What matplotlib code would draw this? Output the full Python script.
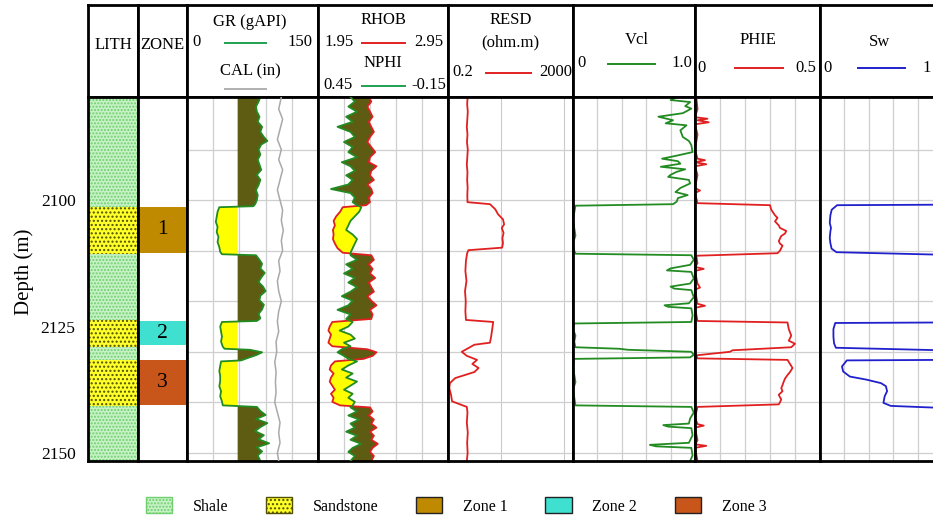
import numpy as np
import matplotlib.pyplot as plt
from matplotlib.patches import Patch

plt.rcParams['font.family'] = ['Liberation Serif', 'DejaVu Serif']
plt.rcParams['hatch.linewidth'] = 1.0

# lithology column and zones (depth in m)
lith_top = [2079.6, 2101.3, 2110.6, 2123.8, 2129.0, 2131.6, 2140.8]
lith_base = [2101.3, 2110.6, 2123.8, 2129.0, 2131.6, 2140.8, 2151.6]
lith_type = ['Shale', 'Sandstone', 'Shale', 'Sandstone', 'Shale', 'Sandstone', 'Shale']

zone_names = ['1', '2', '3']
zone_top = [2101.3, 2123.9, 2131.6]
zone_base = [2110.5, 2128.7, 2140.5]
zone_colors = ['#bf8a00', '#40e0d0', '#c8561a']

depth_ticks = [2100, 2125, 2150]
grid_depths = [2090, 2100, 2110, 2120, 2130, 2140, 2150]

# GR (gAPI)
gr_log = [(2079.6, 84), (2080.5, 82), (2081.5, 79), (2082.5, 80), (2083.5, 83), (2084.5, 81),
          (2085.5, 86), (2086.5, 84), (2087.5, 88), (2088.3, 92), (2089.0, 85), (2090.0, 82),
          (2091.0, 84), (2092.0, 81), (2093.0, 83), (2094.0, 85), (2095.0, 80), (2096.0, 84),
          (2097.0, 82), (2098.0, 79), (2099.0, 81), (2100.0, 80), (2100.8, 78), (2101.2, 76),
          (2101.4, 37), (2102.3, 35), (2103.3, 34), (2104.3, 33), (2105.3, 35), (2106.3, 34),
          (2107.3, 36), (2108.3, 35), (2109.3, 37), (2110.2, 38), (2110.7, 40),
          (2110.9, 79), (2111.8, 83), (2112.6, 86), (2113.5, 84), (2114.4, 89), (2115.3, 85),
          (2116.2, 82), (2117.1, 87), (2118.0, 90), (2118.9, 84), (2119.8, 83), (2120.7, 88),
          (2121.6, 86), (2122.5, 82), (2123.4, 84), (2123.9, 80),
          (2124.1, 40), (2125.0, 38), (2126.0, 39), (2127.0, 40), (2128.0, 39), (2129.0, 41),
          (2129.4, 43), (2129.6, 72), (2130.1, 86), (2130.6, 80), (2131.2, 70), (2131.7, 62),
          (2131.9, 39), (2132.8, 38), (2133.8, 37), (2134.8, 38), (2135.8, 38), (2136.8, 37),
          (2137.8, 39), (2138.8, 38), (2139.8, 40), (2140.6, 41),
          (2140.9, 80), (2141.7, 84), (2142.5, 90), (2143.3, 79), (2144.1, 92), (2144.9, 84),
          (2145.7, 78), (2146.5, 88), (2147.3, 82), (2148.1, 94), (2148.9, 80), (2149.7, 86),
          (2150.5, 81), (2151.6, 84)]
gr_cutoff = 58

# CAL (in)
cal_log = [(2079.6, 13.2), (2082, 13.0), (2084, 13.3), (2086, 13.1), (2088, 12.9), (2090, 13.2),
           (2092, 13.0), (2094, 13.3), (2096, 13.1), (2098, 12.9), (2100, 13.1), (2102, 13.3),
           (2104, 13.2), (2106, 13.35), (2108, 13.2), (2110, 13.3), (2112, 13.0), (2114, 13.1),
           (2116, 12.9), (2118, 13.0), (2120, 13.2), (2122, 13.0), (2124, 12.9), (2126, 13.0),
           (2128, 12.8), (2130, 12.85), (2132, 12.7), (2134, 12.8), (2136, 12.75), (2138, 12.8),
           (2140, 12.7), (2142, 12.9), (2144, 13.1), (2146, 13.0), (2148, 13.1), (2150, 12.9),
           (2151.6, 13.0)]

# depth, RHOB (g/cc), NPHI (v/v)
nd_log = [(2079.6, 2.34, 0.30), (2080.5, 2.36, 0.28), (2081.5, 2.33, 0.31), (2082.5, 2.35, 0.27),
          (2083.5, 2.37, 0.32), (2084.5, 2.34, 0.29), (2085.5, 2.36, 0.36), (2086.5, 2.38, 0.30),
          (2087.5, 2.35, 0.28), (2088.5, 2.33, 0.33), (2089.5, 2.36, 0.29), (2090.5, 2.39, 0.31),
          (2091.5, 2.35, 0.27), (2092.5, 2.34, 0.34), (2093.3, 2.40, 0.30), (2094.2, 2.36, 0.28),
          (2095.1, 2.35, 0.32), (2096.0, 2.38, 0.29), (2096.9, 2.33, 0.31), (2097.8, 2.36, 0.39),
          (2098.6, 2.37, 0.30), (2099.5, 2.34, 0.28), (2100.4, 2.35, 0.29), (2101.0, 2.32, 0.27),
          (2101.4, 2.14, 0.25), (2102.3, 2.12, 0.26), (2103.2, 2.09, 0.28), (2104.1, 2.07, 0.30),
          (2105.0, 2.08, 0.31), (2105.9, 2.065, 0.32), (2106.8, 2.07, 0.29), (2107.7, 2.065, 0.27),
          (2108.6, 2.08, 0.28), (2109.5, 2.10, 0.29), (2110.4, 2.14, 0.30),
          (2110.9, 2.36, 0.30), (2111.8, 2.38, 0.27), (2112.7, 2.34, 0.32), (2113.6, 2.37, 0.29),
          (2114.5, 2.35, 0.33), (2115.4, 2.39, 0.28), (2116.3, 2.34, 0.31), (2117.2, 2.36, 0.27),
          (2118.1, 2.38, 0.30), (2119.0, 2.33, 0.34), (2119.9, 2.36, 0.29), (2120.8, 2.40, 0.31),
          (2121.7, 2.35, 0.36), (2122.6, 2.37, 0.30), (2123.5, 2.36, 0.32),
          (2124.1, 2.06, 0.29), (2125.0, 2.04, 0.31), (2125.8, 2.03, 0.35), (2126.6, 2.05, 0.30),
          (2127.4, 2.04, 0.28), (2128.2, 2.03, 0.33), (2128.9, 2.06, 0.30),
          (2129.5, 2.33, 0.34), (2130.1, 2.40, 0.36), (2130.8, 2.37, 0.33), (2131.4, 2.30, 0.31),
          (2131.9, 2.08, 0.27), (2132.7, 2.05, 0.31), (2133.5, 2.04, 0.34), (2134.3, 2.07, 0.29),
          (2135.1, 2.05, 0.32), (2135.9, 2.04, 0.27), (2136.7, 2.06, 0.30), (2137.5, 2.08, 0.33),
          (2138.3, 2.05, 0.29), (2139.1, 2.07, 0.31), (2139.9, 2.06, 0.28), (2140.6, 2.12, 0.29),
          (2141.0, 2.35, 0.30), (2141.8, 2.37, 0.27), (2142.6, 2.34, 0.31), (2143.4, 2.38, 0.26),
          (2144.2, 2.36, 0.30), (2145.0, 2.40, 0.28), (2145.8, 2.35, 0.32), (2146.6, 2.38, 0.27),
          (2147.4, 2.36, 0.30), (2148.2, 2.41, 0.25), (2149.0, 2.37, 0.29), (2149.8, 2.35, 0.31),
          (2150.6, 2.38, 0.28), (2151.6, 2.36, 0.30)]

# RESD (ohm.m)
resd_log = [(2079.6, 0.85), (2081.0, 0.82), (2082.5, 0.86), (2084.0, 0.83), (2085.5, 0.80),
            (2087.0, 0.84), (2088.5, 0.81), (2090.0, 0.86), (2091.5, 0.83), (2093.0, 0.80),
            (2094.5, 0.84), (2096.0, 0.82), (2097.5, 0.85), (2099.0, 0.83), (2100.4, 0.84),
            (2100.8, 4.4), (2101.8, 6.5), (2102.8, 8.0), (2103.8, 11.5), (2104.8, 12.5),
            (2105.5, 10.5), (2106.5, 12.0), (2107.5, 11.0), (2108.5, 11.5), (2109.4, 10.8),
            (2109.9, 0.9), (2110.5, 0.82), (2112.0, 0.75), (2114.0, 0.72), (2116.0, 0.78),
            (2118.0, 0.70), (2120.0, 0.74), (2122.0, 0.72), (2123.7, 0.75),
            (2124.1, 5.6), (2125.5, 5.2), (2127.0, 4.8), (2128.2, 4.4), (2128.6, 1.4),
            (2130.0, 0.55), (2130.8, 0.8), (2131.6, 1.7), (2132.4, 1.2), (2133.2, 1.9),
            (2134.0, 1.4), (2135.2, 0.34), (2136.2, 0.23), (2137.2, 0.22), (2138.5, 0.25),
            (2139.8, 0.27), (2140.9, 0.8), (2142.0, 0.84), (2144.0, 0.80), (2146.0, 0.86),
            (2148.0, 0.82), (2150.0, 0.85), (2151.6, 0.80)]

# Vcl (v/v)
vcl_log = [(2079.6, 0.85), (2080.2, 0.80), (2080.6, 0.96), (2081.4, 0.92), (2081.9, 0.97),
           (2082.8, 0.90), (2083.5, 0.70), (2084.2, 0.82), (2084.8, 0.76), (2085.2, 0.93),
           (2086.2, 0.88), (2087.5, 0.90), (2088.3, 0.95), (2089.1, 0.97), (2090.5, 0.98),
           (2091.2, 0.85), (2091.8, 0.73), (2092.3, 0.86), (2092.8, 0.88), (2093.4, 0.72),
           (2093.9, 0.92), (2094.4, 0.85), (2095.0, 0.80), (2095.4, 0.78), (2096.0, 0.95),
           (2096.7, 0.96), (2097.6, 0.88), (2098.4, 0.84), (2099.0, 0.94), (2099.6, 0.86),
           (2100.3, 0.85), (2100.8, 0.82),
           (2101.1, 0.02), (2102.5, 0.01), (2104.0, 0.0), (2105.5, 0.01), (2107.0, 0.02),
           (2108.5, 0.0), (2110.0, 0.01), (2110.6, 0.02),
           (2110.9, 0.97), (2111.8, 0.99), (2112.8, 0.96), (2113.5, 0.80), (2113.9, 0.77),
           (2114.2, 0.97), (2115.5, 0.99), (2116.5, 0.96), (2117.1, 0.80), (2117.5, 0.83),
           (2117.8, 0.97), (2119.2, 0.99), (2120.4, 0.95), (2120.8, 0.75), (2121.1, 0.78),
           (2121.4, 0.97), (2122.8, 0.98), (2124.1, 0.97),
           (2124.4, 0.01), (2125.5, 0.0), (2126.8, 0.02), (2128.0, 0.01), (2129.1, 0.02),
           (2129.4, 0.38), (2129.6, 0.45), (2130.0, 0.97), (2130.6, 0.99), (2131.1, 0.96),
           (2131.4, 0.01), (2133.0, 0.0), (2134.5, 0.01), (2136.0, 0.02), (2137.5, 0.0),
           (2139.0, 0.01), (2140.6, 0.02),
           (2140.9, 0.97), (2142.0, 0.99), (2143.2, 0.96), (2144.2, 0.95), (2144.5, 0.74),
           (2144.8, 0.78), (2145.1, 0.97), (2146.5, 0.98), (2148.0, 0.95), (2148.4, 0.63),
           (2148.7, 0.68), (2149.0, 0.97), (2150.5, 0.98), (2151.6, 0.96)]

# PHIE (v/v)
phie_log = [(2079.6, 0.005), (2082.0, 0.01), (2083.6, 0.0), (2083.9, 0.05), (2084.2, 0.01),
            (2084.6, 0.055), (2085.0, 0.0), (2087.0, 0.01), (2090.0, 0.0), (2091.8, 0.01),
            (2092.1, 0.04), (2092.5, 0.0), (2092.9, 0.045), (2093.3, 0.0), (2095.0, 0.01),
            (2097.6, 0.0), (2098.1, 0.02), (2098.6, 0.0), (2100.6, 0.01),
            (2101.0, 0.30), (2101.9, 0.305), (2103.0, 0.32), (2103.5, 0.33), (2104.2, 0.32),
            (2105.0, 0.335), (2105.5, 0.34), (2106.1, 0.365), (2106.6, 0.36), (2107.1, 0.345),
            (2108.1, 0.335), (2108.6, 0.34), (2109.0, 0.35), (2109.5, 0.345), (2110.0, 0.34),
            (2110.5, 0.33), (2111.0, 0.005),
            (2112.5, 0.01), (2113.2, 0.0), (2113.6, 0.035), (2114.0, 0.0), (2116.5, 0.01),
            (2117.3, 0.02), (2117.7, 0.0), (2120.5, 0.01), (2120.9, 0.04), (2121.3, 0.0),
            (2123.9, 0.01),
            (2124.2, 0.37), (2125.5, 0.375), (2126.8, 0.385), (2127.8, 0.375), (2128.4, 0.40),
            (2129.1, 0.385), (2129.7, 0.15), (2130.0, 0.14), (2130.7, 0.005), (2131.3, 0.01),
            (2131.6, 0.37), (2132.4, 0.38), (2133.2, 0.39), (2134.0, 0.38), (2134.6, 0.37),
            (2135.3, 0.36), (2135.9, 0.355), (2136.6, 0.35), (2137.2, 0.345), (2137.8, 0.35),
            (2138.5, 0.335), (2139.0, 0.34), (2139.4, 0.345), (2140.0, 0.34), (2140.4, 0.335),
            (2140.9, 0.01),
            (2143.0, 0.0), (2144.3, 0.01), (2144.6, 0.035), (2145.0, 0.0), (2147.5, 0.01),
            (2148.3, 0.0), (2148.6, 0.045), (2149.0, 0.0), (2151.6, 0.01)]

# Sw (v/v)
sw_log = [(2079.6, 1.0), (2100.9, 1.0), (2101.0, 0.14), (2101.9, 0.096), (2103.0, 0.085),
          (2104.5, 0.08), (2105.5, 0.09), (2106.2, 0.085), (2107.5, 0.08), (2108.5, 0.085),
          (2109.6, 0.095), (2110.3, 0.135), (2110.8, 1.0), (2124.2, 1.0), (2124.3, 0.125),
          (2125.5, 0.11), (2127.0, 0.11), (2128.3, 0.115), (2129.2, 0.13), (2129.7, 1.0),
          (2131.6, 1.0), (2131.7, 0.22), (2132.9, 0.18), (2133.9, 0.19), (2134.9, 0.245),
          (2135.5, 0.38), (2136.2, 0.50), (2136.8, 0.54), (2137.8, 0.55), (2138.8, 0.53),
          (2140.1, 0.52), (2140.7, 0.58), (2141.1, 1.0), (2151.6, 1.0)]

GREEN = '#228b22'
RED = '#e02020'
BLUE = '#2020cc'
OLIVE = '#5e5b12'
lith_style = {'Shale': dict(facecolor='#c6f2c6', edgecolor='#6fcf6f', hatch='.....'),
              'Sandstone': dict(facecolor='#ffff2a', edgecolor='#505000', hatch='....')}

W, H = 933, 521
edges = [88, 138, 187, 318, 448, 573, 695, 820, 942]
top_y, mid_y, bot_y = 5, 97, 461
dmin, dmax = 2079.6, 2151.6

fig = plt.figure(figsize=(W / 100, H / 100), dpi=100)


def box(i, y0, y1):
    return [edges[i] / W, 1 - y1 / H, (edges[i + 1] - edges[i]) / W, (y1 - y0) / H]


heads = [fig.add_axes(box(i, top_y, mid_y)) for i in range(8)]
tracks = [fig.add_axes(box(i, mid_y, bot_y)) for i in range(8)]

for ax in heads + tracks:
    for s in ax.spines.values():
        s.set_linewidth(2.0)
    ax.tick_params(length=0, labelbottom=False, labelleft=False)
for ax in heads:
    ax.set_xlim(0, 1)
    ax.set_ylim(0, 1)
for ax in tracks:
    ax.set_ylim(dmax, dmin)
    ax.set_axisbelow(True)
for ax in tracks[2:]:
    ax.set_yticks(grid_depths)
    ax.grid(True, color='#cfcfcf', lw=0.9)


def twin(ax, lo, hi):
    t = ax.twiny()
    t.set_xlim(lo, hi)
    t.set_ylim(dmax, dmin)
    t.tick_params(length=0, labeltop=False, labelbottom=False)
    for s in t.spines.values():
        s.set_visible(False)
    return t


# depth axis
ax = tracks[0]
ax.set_yticks(depth_ticks)
ax.tick_params(axis='y', labelleft=True, pad=9, labelsize=12.5)
fig.text(24 / W, 1 - 272 / H, 'Depth (m)', rotation=90, ha='center', va='center', fontsize=15)

# LITH
ax.set_xlim(0, 1)
for t, b, k in zip(lith_top, lith_base, lith_type):
    ax.axhspan(t, b, lw=0, **lith_style[k])

# ZONE
ax = tracks[1]
ax.set_xlim(0, 1)
for name, t, b, c in zip(zone_names, zone_top, zone_base, zone_colors):
    ax.axhspan(t, b, color=c, lw=0)
    ax.text(0.5, (t + b) / 2, name, transform=ax.get_yaxis_transform(),
            ha='center', va='center', fontsize=15.5)

# GR + CAL
ax = tracks[2]
gd, gv = np.array(gr_log).T
ax.set_xlim(0, 150)
ax.set_xticks([30, 60, 90, 120])
ax.fill_betweenx(gd, gr_cutoff, gv, where=gv >= gr_cutoff, interpolate=True, color=OLIVE, lw=0)
ax.fill_betweenx(gd, gr_cutoff, gv, where=gv < gr_cutoff, interpolate=True, color='#ffff00', lw=0)
ax.plot(gv, gd, color=GREEN, lw=1.3)
cd, cv = np.array(cal_log).T
twin(ax, 6, 16).plot(cv, cd, color='#a9a9a9', lw=1.1)

# RHOB + NPHI
ax = tracks[3]
nd, rhob, nphi = np.array(nd_log).T
ax.set_xlim(1.95, 2.95)
ax.set_xticks([2.15, 2.35, 2.55, 2.75])
nphi_on_rhob = 1.95 + (0.45 - nphi) / 0.6
ax.fill_betweenx(nd, nphi_on_rhob, rhob, where=nphi_on_rhob <= rhob, interpolate=True, color=OLIVE, lw=0)
ax.fill_betweenx(nd, nphi_on_rhob, rhob, where=nphi_on_rhob > rhob, interpolate=True, color='#ffff00', lw=0)
ax.plot(rhob, nd, color=RED, lw=1.3)
twin(ax, 0.45, -0.15).plot(nphi, nd, color=GREEN, lw=1.3)

# RESD
ax = tracks[4]
rd, rv = np.array(resd_log).T
ax.set_xscale('log')
ax.set_xlim(0.2, 2000)
ax.grid(True, which='both', axis='x', color='#cacaca', lw=0.8)
ax.tick_params(which='both', length=0, labelbottom=False)
ax.plot(rv, rd, color=RED, lw=1.3)

# Vcl
ax = tracks[5]
vd, vv = np.array(vcl_log).T
ax.set_xlim(0, 1)
ax.set_xticks([0.2, 0.4, 0.6, 0.8])
ax.plot(vv, vd, color=GREEN, lw=1.3)

# PHIE
ax = tracks[6]
pd_, pv = np.array(phie_log).T
ax.set_xlim(0, 0.5)
ax.set_xticks([0.1, 0.2, 0.3, 0.4])
ax.plot(pv, pd_, color=RED, lw=1.3)

# Sw
ax = tracks[7]
sd, sv = np.array(sw_log).T
ax.set_xlim(0, 1)
ax.set_xticks([0.2, 0.4, 0.6, 0.8])
ax.plot(sv, sd, color=BLUE, lw=1.3)


# headers
def htext(ax, x, y, s, ha='center'):
    ax.text(x, y, s, ha=ha, va='center', fontsize=12)


def hline(ax, x0, x1, y, c):
    ax.plot([x0, x1], [y, y], color=c, lw=1.4)


htext(heads[0], 0.5, 0.57, 'LITH')
htext(heads[1], 0.5, 0.57, 'ZONE')

h = heads[2]
htext(h, 0.48, 0.82, 'GR (gAPI)')
htext(h, 0.07, 0.60, '0')
htext(h, 0.86, 0.60, '150')
hline(h, 0.29, 0.60, 0.59, '#20a050')
htext(h, 0.48, 0.28, 'CAL (in)')
hline(h, 0.29, 0.60, 0.09, '#b0b0b0')

h = heads[3]
htext(h, 0.5, 0.84, 'RHOB')
htext(h, 0.16, 0.60, '1.95')
htext(h, 0.85, 0.60, '2.95')
hline(h, 0.34, 0.67, 0.59, RED)
htext(h, 0.5, 0.37, 'NPHI')
htext(h, 0.15, 0.13, '0.45')
htext(h, 0.85, 0.13, '-0.15')
hline(h, 0.34, 0.67, 0.12, '#20a050')

h = heads[4]
htext(h, 0.5, 0.84, 'RESD')
htext(h, 0.5, 0.59, '(ohm.m)')
htext(h, 0.12, 0.27, '0.2')
htext(h, 0.86, 0.27, '2000')
hline(h, 0.30, 0.66, 0.26, RED)

h = heads[5]
htext(h, 0.52, 0.62, 'Vcl')
htext(h, 0.07, 0.37, '0')
htext(h, 0.89, 0.37, '1.0')
hline(h, 0.29, 0.67, 0.36, GREEN)

h = heads[6]
htext(h, 0.5, 0.62, 'PHIE')
htext(h, 0.05, 0.32, '0')
htext(h, 0.89, 0.32, '0.5')
hline(h, 0.32, 0.70, 0.31, RED)

h = heads[7]
htext(h, 0.49, 0.60, 'Sw')
htext(h, 0.06, 0.32, '0')
htext(h, 0.912, 0.32, '1', ha='right')
hline(h, 0.31, 0.70, 0.31, BLUE)

# legend
handles = [Patch(label='Shale', **lith_style['Shale']),
           Patch(label='Sandstone', **lith_style['Sandstone'])]
for name, c in zip(zone_names, zone_colors):
    handles.append(Patch(facecolor=c, edgecolor='#222222', label='Zone ' + name))
fig.legend(handles=handles, loc='center', bbox_to_anchor=(456 / W, 1 - 506 / H), ncol=5,
           frameon=False, fontsize=11.5, handlelength=1.65, handleheight=1.15,
           handletextpad=1.3, columnspacing=2.35)

fig.savefig('out.png', dpi=100)
